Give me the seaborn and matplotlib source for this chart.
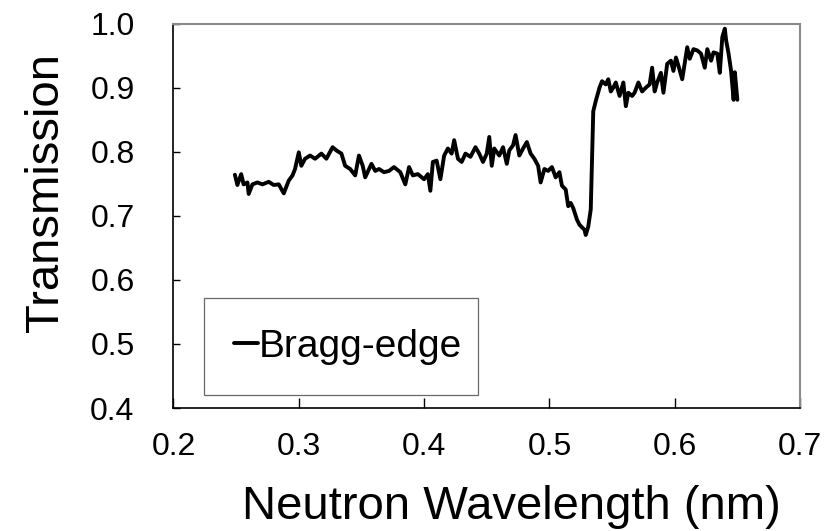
import matplotlib
matplotlib.use("Agg")
import matplotlib.pyplot as plt
import seaborn as sns
import pandas as pd

wavelength = [
    0.249, 0.251, 0.254, 0.256, 0.259, 0.260, 0.263, 0.267, 0.271, 0.276,
    0.280, 0.284, 0.288, 0.292, 0.295, 0.297, 0.300, 0.302, 0.305, 0.309,
    0.313, 0.318, 0.322, 0.327, 0.330, 0.334, 0.337, 0.341, 0.345, 0.348,
    0.351, 0.353, 0.358, 0.361, 0.364, 0.368, 0.372, 0.376, 0.381, 0.385,
    0.388, 0.391, 0.395, 0.400, 0.403, 0.405, 0.407, 0.410, 0.413, 0.416,
    0.419, 0.422, 0.424, 0.427, 0.430, 0.433, 0.437, 0.441, 0.444, 0.447,
    0.450, 0.452, 0.454, 0.456, 0.460, 0.463, 0.466, 0.468, 0.471, 0.473,
    0.476, 0.479, 0.482, 0.485, 0.488, 0.491, 0.493, 0.496, 0.499, 0.502,
    0.505, 0.508, 0.510, 0.513, 0.515, 0.517, 0.519, 0.522, 0.524, 0.528,
    0.529, 0.531, 0.533, 0.534, 0.535, 0.537, 0.540, 0.542, 0.545, 0.547,
    0.549, 0.551, 0.553, 0.556, 0.559, 0.561, 0.563, 0.566, 0.568, 0.571,
    0.574, 0.577, 0.580, 0.582, 0.584, 0.586, 0.589, 0.591, 0.594, 0.597,
    0.599, 0.601, 0.603, 0.606, 0.610, 0.612, 0.615, 0.618, 0.621, 0.624,
    0.626, 0.629, 0.631, 0.634, 0.636, 0.638, 0.640, 0.641, 0.643, 0.645,
    0.647, 0.648, 0.650,
]
transmission = [
    0.764, 0.748, 0.765, 0.749, 0.752, 0.734, 0.749, 0.752, 0.749, 0.753,
    0.748, 0.749, 0.735, 0.755, 0.763, 0.773, 0.799, 0.778, 0.789, 0.794,
    0.789, 0.797, 0.789, 0.807, 0.802, 0.797, 0.778, 0.773, 0.763, 0.794,
    0.778, 0.760, 0.781, 0.770, 0.773, 0.768, 0.770, 0.776, 0.768, 0.749,
    0.776, 0.763, 0.765, 0.757, 0.765, 0.739, 0.784, 0.786, 0.757, 0.794,
    0.805, 0.797, 0.818, 0.789, 0.784, 0.797, 0.792, 0.807, 0.797, 0.784,
    0.797, 0.823, 0.778, 0.805, 0.794, 0.807, 0.781, 0.802, 0.810, 0.826,
    0.794, 0.805, 0.815, 0.797, 0.789, 0.778, 0.752, 0.773, 0.770, 0.776,
    0.760, 0.768, 0.747, 0.741, 0.715, 0.720, 0.712, 0.694, 0.686, 0.678,
    0.670, 0.683, 0.710, 0.784, 0.863, 0.879, 0.900, 0.910, 0.905, 0.913,
    0.894, 0.900, 0.908, 0.887, 0.908, 0.871, 0.892, 0.887, 0.892, 0.908,
    0.894, 0.900, 0.905, 0.931, 0.894, 0.908, 0.923, 0.892, 0.937, 0.942,
    0.926, 0.947, 0.934, 0.913, 0.963, 0.945, 0.960, 0.958, 0.953, 0.931,
    0.960, 0.942, 0.955, 0.953, 0.923, 0.979, 0.992, 0.974, 0.953, 0.926,
    0.881, 0.924, 0.881,
]
series_label = "Bragg-edge"
x_ticks = [0.2, 0.3, 0.4, 0.5, 0.6, 0.7]
y_ticks = [0.4, 0.5, 0.6, 0.7, 0.8, 0.9, 1.0]
x_title = "Neutron Wavelength (nm)"
y_title = "Transmission"

sns.set_theme(style="white")
plt.rcParams["font.family"] = ["Liberation Sans", "DejaVu Sans"]
plt.rcParams["text.color"] = "black"

df = pd.DataFrame({"wl": wavelength, "tr": transmission})

fig = plt.figure(figsize=(8.25, 5.31), dpi=100)
ax = fig.add_axes([0.2103, 0.2316, 0.7594, 0.7241])

sns.lineplot(data=df, x="wl", y="tr", color="black", linewidth=2.8,
             sort=False, label=series_label, ax=ax)

ax.set_xlim(0.2, 0.7)
ax.set_ylim(0.4, 1.0)
ax.set_xticks(x_ticks)
ax.set_yticks(y_ticks)
ax.set_xticklabels([f"{v:.1f}" for v in x_ticks])
ax.set_yticklabels([f"{v:.1f}" for v in y_ticks])

ax.tick_params(axis="x", direction="in", length=7, width=1, color="black",
               labelsize=23, pad=17, bottom=True, labelcolor="black")
ax.tick_params(axis="y", direction="in", length=5, width=1, color="black",
               labelsize=23, pad=28, left=True, labelcolor="black")

for side in ["left", "bottom"]:
    ax.spines[side].set_color("black")
    ax.spines[side].set_linewidth(1.2)
for side in ["top", "right"]:
    ax.spines[side].set_color("#8a8a8a")
    ax.spines[side].set_linewidth(1.5)

ax.set_xlabel(x_title, fontsize=34, color="black")
ax.set_ylabel(y_title, fontsize=34, color="black")
ax.xaxis.set_label_coords(0.54, -0.2)
ax.yaxis.set_label_coords(-0.168, 0.56)

leg = ax.legend(loc="lower left", bbox_to_anchor=(0.0487, 0.034, 0.437, 0.244),
                mode="expand", fontsize=28, frameon=True, fancybox=False,
                borderpad=0.78, handlelength=0.62, handletextpad=0.0,
                borderaxespad=0.0)
leg.get_frame().set_edgecolor("#444444")
leg.get_frame().set_linewidth(0.9)
for line in leg.get_lines():
    line.set_linewidth(2.8)
for t in leg.get_texts():
    t.set_color("black")

fig.savefig("out.png", dpi=100)
